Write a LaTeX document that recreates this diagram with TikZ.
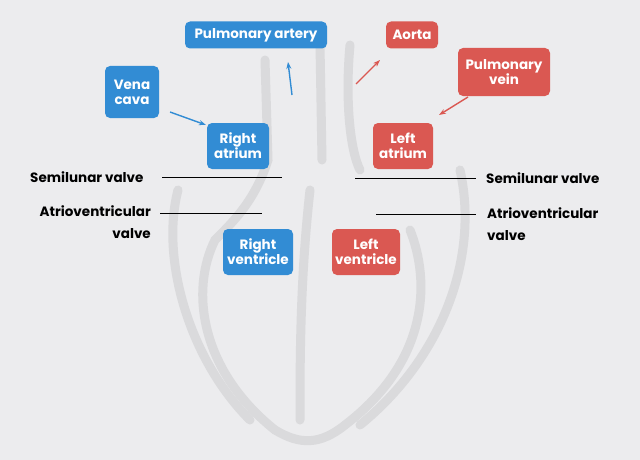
\documentclass[tikz,border=0pt]{standalone}
\usepackage{fontspec}
\setmainfont{Poppins}
\usetikzlibrary{arrows.meta}
\definecolor{bg}{RGB}{236,236,238}
\definecolor{bl}{RGB}{50,140,212}
\definecolor{rd}{RGB}{218,88,82}
\definecolor{hrt}{RGB}{218,218,220}
\tikzset{x=1pt,y=-1pt,
 lab/.style={rounded corners=5pt,text=white,font=\fontsize{13.5}{15}\selectfont\bfseries,align=center,inner sep=2pt},
 bbox/.style={lab,fill=bl},
 rbox/.style={lab,fill=rd},
 txt/.style={font=\fontsize{13.5}{22}\selectfont\bfseries,text=black,inner sep=0pt},
 ln/.style={black,line width=1pt},
 arr/.style={-{Stealth[length=7pt,width=5pt]},line width=1.4pt},
 hl/.style={hrt,line width=9pt,line cap=round}}
\begin{document}
\begin{tikzpicture}
\fill[bg] (0,0) rectangle (640,460);
\useasboundingbox (0,0) rectangle (640,460);
% faint heart outline
\draw[hl] (265,60) -- (268,160) .. controls (255,200) and (235,220) .. (215,240) .. controls (190,290) and (200,370) .. (275,430) .. controls (300,445) and (320,445) .. (345,425) .. controls (430,360) and (430,280) .. (410,230);
\draw[hl] (320,45) -- (322,160);
\draw[hl] (350,45) .. controls (345,100) and (350,150) .. (360,170);
\draw[hl] (310,190) .. controls (300,280) and (300,360) .. (300,420);
\draw[hl] (178,190) .. controls (160,260) and (190,360) .. (250,420);
\draw[hl] (460,170) .. controls (480,260) and (440,360) .. (360,425);
% boxes
\node[bbox,minimum width=142pt,minimum height=27pt] (pa) at (256,35) {Pulmonary artery};
\node[rbox,minimum width=52pt,minimum height=27pt] (ao) at (412,35) {Aorta};
\node[bbox,minimum width=54pt,minimum height=52pt] (vc) at (132,92) {Vena\\cava};
\node[rbox,minimum width=92pt,minimum height=48pt] (pv) at (504,72) {Pulmonary\\vein};
\node[bbox,minimum width=62pt,minimum height=46pt] (ra) at (238,146) {Right\\atrium};
\node[rbox,minimum width=60pt,minimum height=46pt] (la) at (403,146) {Left\\atrium};
\node[bbox,minimum width=70pt,minimum height=46pt] (rv) at (258,252) {Right\\ventricle};
\node[rbox,minimum width=68pt,minimum height=46pt] (lv) at (366,252) {Left\\ventricle};
% arrows
\coordinate (a1s) at (170,112); \coordinate (a1e) at (206,125);
\coordinate (a2s) at (292,95); \coordinate (a2e) at (288,62);
\coordinate (a3s) at (356,84); \coordinate (a3e) at (380,60);
\coordinate (a4s) at (468,97); \coordinate (a4e) at (439,115);
\draw[arr,bl] (a1s) -- (a1e);
\draw[arr,bl] (a2s) -- (a2e);
\draw[arr,rd] (a3s) -- (a3e);
\draw[arr,rd] (a4s) -- (a4e);
% labels
\node[txt,anchor=west] (sl) at (30,177) {Semilunar valve};
\coordinate (slL) at (162,177); \coordinate (slLe) at (282,177);
\draw[ln] (slL) -- (slLe);
\node[txt,anchor=west] (sr) at (486,178) {Semilunar valve};
\coordinate (srL) at (355,178); \coordinate (srLe) at (476,178);
\draw[ln] (srL) -- (srLe);
\node[txt,align=right,anchor=north east] (avl) at (151,205) {Atrioventricular\\valve};
\coordinate (avL) at (160,213); \coordinate (avLe) at (262,213);
\draw[ln] (avL) -- (avLe);
\node[txt,align=left,anchor=north west] (avr) at (487,207) {Atrioventricular\\valve};
\coordinate (avR) at (376,214); \coordinate (avRe) at (476,214);
\draw[ln] (avR) -- (avRe);
\end{tikzpicture}
\end{document}
